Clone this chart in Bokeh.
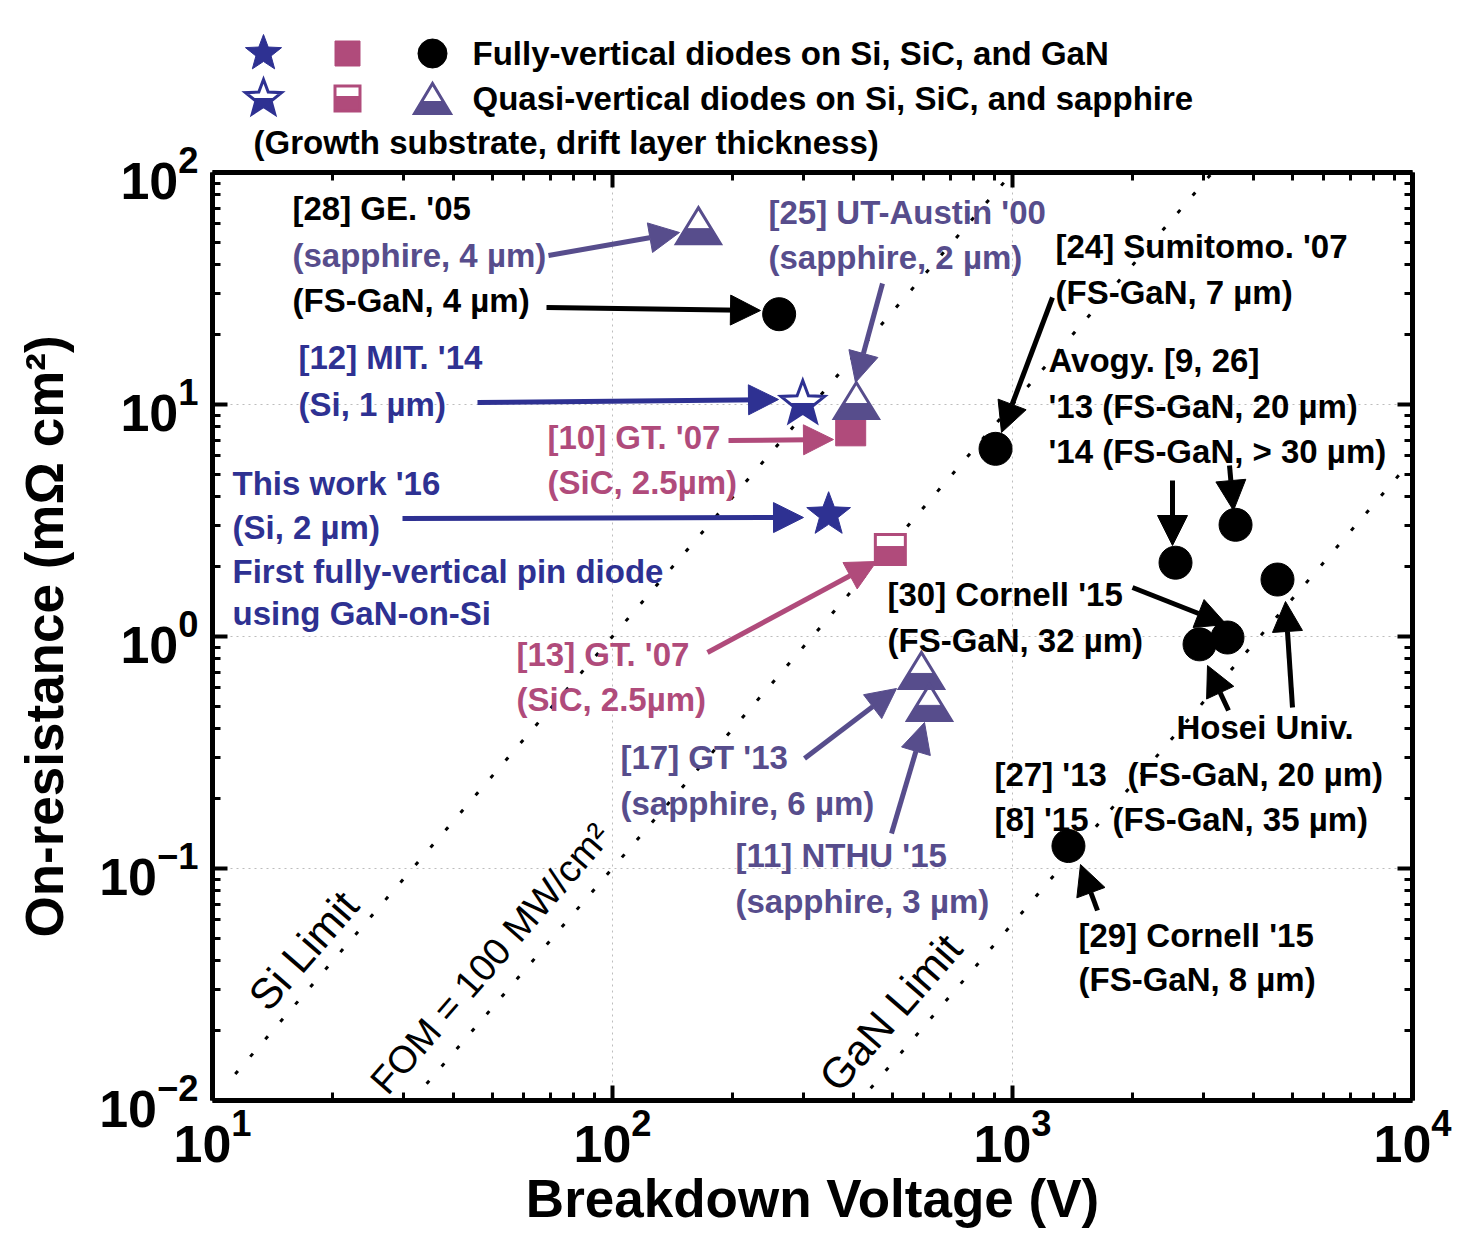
import math
from bokeh.plotting import figure
from bokeh.layouts import column
from bokeh.models import (Range1d, LinearScale, LogAxis, FixedTicker, Arrow, NormalHead,
                          ColumnDataSource)
from bokeh.core.properties import value
from bokeh.embed import file_html
from bokeh.resources import INLINE

# ---------------- data ----------------
x_ticks = [10, 100, 1000, 10000]
y_ticks = [0.01, 0.1, 1, 10, 100]

# fully-vertical diodes on GaN (filled circles)
gan_v = [261, 907, 2556, 3611, 4597, 3447, 2935, 1380]
gan_r = [24.5, 6.44, 2.08, 3.03, 1.76, 0.99, 0.925, 0.125]
# fully-vertical on Si (filled star, this work)
si_full_v = [347]
si_full_r = [3.35]
# quasi-vertical on Si (half star, MIT)
si_quasi_v = [299]
si_quasi_r = [10.1]
# fully-vertical on SiC (filled square)
sic_full_v = [394]
sic_full_r = [7.7]
# quasi-vertical on SiC (half square)
sic_quasi_v = [495]
sic_quasi_r = [2.37]
# quasi-vertical on sapphire (half triangles)
sap_v = [164, 407, 592, 620]
sap_r = [59, 10.4, 0.714, 0.52]

# limit lines (end points)
si_lim_v = [11.4, 990]
si_lim_r = [0.013, 98]
fom_v = [34.3, 3162]
fom_r = [0.0118, 100]
gan_lim_v = [442, 10000]
gan_lim_r = [0.0113, 5.8]

# ---------------- style ----------------
FONT = "Liberation Sans"
BLACK = "#000000"
BLUE = "#2e3192"
SLATE = "#574d8c"
PINK = "#b04b7b"

X0, X1 = 10, 1e4
Y0, Y1 = 1e-2, 1e2
W = 1452
LEG_H = 125                 # height of the key strip above the plot
FL, FT = 212, 172           # frame left / top on the page
FW, FH = 1200, 928
PPD_X = FW / math.log10(X1 / X0)
PPD_Y = FH / math.log10(Y1 / Y0)

# annotation layout (page pixel coordinates)
ann_x = [292, 292, 292, 298, 298, 768, 768, 1055, 1055, 1048, 1048, 1048, 547, 547,
         232, 232, 232, 232, 887, 887, 516, 516, 620, 620, 735, 735, 1176, 994, 1127,
         994, 1112, 1078, 1078, 253]
ann_y = [208, 255, 300, 357, 404, 212, 257, 246, 292, 360, 406, 451, 437, 482,
         483, 527, 571, 613, 594, 640, 654, 699, 757, 803, 855, 901, 727, 774, 774,
         819, 819, 935, 979, 142]
ann_text = ["[28] GE. '05", "(sapphire, 4 µm)", "(FS-GaN, 4 µm)", "[12] MIT. '14", "(Si, 1 µm)",
            "[25] UT-Austin '00", "(sapphire, 2 µm)", "[24] Sumitomo. '07", "(FS-GaN, 7 µm)",
            "Avogy. [9, 26]", "'13 (FS-GaN,  20 µm)", "'14 (FS-GaN, > 30 µm)",
            "[10] GT. '07", "(SiC, 2.5µm)", "This work '16", "(Si, 2 µm)",
            "First fully-vertical pin diode", "using GaN-on-Si", "[30] Cornell '15", "(FS-GaN, 32 µm)",
            "[13] GT. '07", "(SiC, 2.5µm)", "[17] GT '13", "(sapphire, 6 µm)", "[11] NTHU '15",
            "(sapphire, 3 µm)", "Hosei Univ.", "[27] '13", "(FS-GaN, 20 µm)", "[8] '15",
            "(FS-GaN, 35 µm)", "[29] Cornell '15", "(FS-GaN, 8 µm)",
            "(Growth substrate, drift layer thickness)"]
ann_color = [BLACK, SLATE, BLACK, BLUE, BLUE, SLATE, SLATE, BLACK, BLACK, BLACK, BLACK, BLACK,
             PINK, PINK, BLUE, BLUE, BLUE, BLUE, BLACK, BLACK, PINK, PINK, SLATE, SLATE, SLATE,
             SLATE, BLACK, BLACK, BLACK, BLACK, BLACK, BLACK, BLACK, BLACK]

arr_x0 = [546, 1052, 1172, 1229, 1132, 1228, 1292, 1097, 548, 882, 804, 891, 477, 402, 728, 707]
arr_y0 = [307, 297, 480, 465, 587, 710, 707, 910, 255, 283, 758, 833, 402, 518, 440, 652]
arr_x1 = [760, 1001, 1172, 1233, 1226, 1207, 1285, 1080, 679, 855, 896, 924, 778, 803, 833, 876]
arr_y1 = [310, 432, 545, 510, 624, 665, 601, 864, 232, 382, 688, 722, 399, 517, 439, 561]
arr_color = [BLACK] * 8 + [SLATE] * 4 + [BLUE] * 2 + [PINK] * 2

lim_text = ["Si Limit", "FOM = 100 MW/cm²", "GaN Limit"]
lim_x = [303, 490, 890]
lim_y = [950, 958, 1012]
lim_size = ["43px", "38px", "43px"]

# key (legend) strip
key_text = ["Fully-vertical diodes on Si, SiC, and GaN",
            "Quasi-vertical diodes on Si, SiC, and sapphire"]
key_text_x = [472, 472]
key_x = [263, 347, 432]
key_y = [53, 98]


# ---------------- marker shapes ----------------
def star_pts(R, inner=0.42):
    pts = []
    for n in range(10):
        rad = R if n % 2 == 0 else R * inner
        a = math.pi / 2 + n * math.pi / 5
        pts.append((rad * math.cos(a), rad * math.sin(a)))
    return pts


def tri_pts(w, h):
    return [(-w / 2, -h / 2), (w / 2, -h / 2), (0, h / 2)]


def sq_pts(s):
    h = s / 2
    return [(-h, -h), (h, -h), (h, h), (-h, h)]


def clip_below(pts, cut):
    out = []
    n = len(pts)
    for i in range(n):
        P, Q = pts[i], pts[(i + 1) % n]
        pin, qin = P[1] <= cut, Q[1] <= cut
        if pin:
            out.append(P)
        if pin != qin:
            t = (cut - P[1]) / (Q[1] - P[1])
            out.append((P[0] + t * (Q[0] - P[0]), cut))
    return out


def in_data(vs, rs, pts):
    xs = [[v * 10 ** (dx / PPD_X) for dx, dy in pts] for v in vs]
    ys = [[r * 10 ** (dy / PPD_Y) for dx, dy in pts] for r in rs]
    return xs, ys


def in_px(cxs, cys, pts):
    xs = [[cx + dx for dx, dy in pts] for cx in cxs]
    ys = [[cy - dy for dx, dy in pts] for cy in cys]
    return xs, ys


def full_marker(fig, shape, color):
    fig.patches(shape[0], shape[1], fill_color=color, line_color=color, line_width=1)


def half_marker(fig, shape, lower, color):
    fig.patches(shape[0], shape[1], fill_color="white", line_color=None)
    fig.patches(lower[0], lower[1], fill_color=color, line_color=color, line_width=1)
    fig.patches(shape[0], shape[1], fill_color=None, line_color=color, line_width=3,
                line_join="miter")


# ---------------- key strip (its frame is aligned with the plot frame) ----------------
k = figure(width=W, height=LEG_H, x_range=Range1d(FL, FL + FW), y_range=Range1d(LEG_H, 0),
           x_axis_location=None, y_axis_location=None, min_border=0,
           output_backend="svg", toolbar_location=None,
           background_fill_color="white", border_fill_color="white")
k.outline_line_color = None
k.xgrid.visible = False
k.ygrid.visible = False

KSTAR = star_pts(19)
KSQ = sq_pts(25)
KTRI = tri_pts(36, 30)
full_marker(k, in_px([key_x[0]], [key_y[0]], KSTAR), BLUE)
full_marker(k, in_px([key_x[1]], [key_y[0]], KSQ), PINK)
k.scatter([key_x[2]], [key_y[0]], marker="circle", size=29, fill_color="black", line_color="black")
half_marker(k, in_px([key_x[0]], [key_y[1]], KSTAR),
            in_px([key_x[0]], [key_y[1]], clip_below(KSTAR, 0.0)), BLUE)
half_marker(k, in_px([key_x[1]], [key_y[1]], KSQ),
            in_px([key_x[1]], [key_y[1]], clip_below(KSQ, 2)), PINK)
half_marker(k, in_px([key_x[2]], [key_y[1]], KTRI),
            in_px([key_x[2]], [key_y[1]], clip_below(KTRI, -3)), SLATE)
k.text(x=key_text_x, y=key_y, text=key_text, text_align="left", text_baseline="middle",
       text_font=value(FONT), text_font_style="bold", text_font_size="33px", text_color="black")

# ---------------- main plot ----------------
p = figure(x_axis_type="log", y_axis_type="log",
           x_range=Range1d(X0, X1), y_range=Range1d(Y0, Y1),
           frame_width=FW, frame_height=FH,
           min_border_left=FL, min_border_right=W - FL - FW, min_border_top=FT - LEG_H,
           min_border_bottom=146,
           output_backend="svg", toolbar_location=None,
           background_fill_color="white", border_fill_color="white")
p.outline_line_color = None
p.extra_x_ranges = {"px": Range1d(FL, FL + FW)}
p.extra_y_ranges = {"px": Range1d(FT + FH, FT)}
p.extra_x_scales = {"px": LinearScale()}
p.extra_y_scales = {"px": LinearScale()}

x_minor = [m * d for d in x_ticks[:-1] for m in range(2, 10)]
y_minor = [m * d for d in y_ticks[:-1] for m in range(2, 10)]
xt = FixedTicker(ticks=x_ticks, minor_ticks=x_minor)
yt = FixedTicker(ticks=y_ticks, minor_ticks=y_minor)


def style_axis(ax, labels):
    ax.axis_line_width = 5
    ax.axis_line_color = "black"
    ax.major_tick_line_width = 4
    ax.minor_tick_line_width = 3
    ax.major_tick_line_color = "black"
    ax.minor_tick_line_color = "black"
    ax.major_tick_in = 15
    ax.major_tick_out = 0
    ax.minor_tick_in = 8
    ax.minor_tick_out = 0
    if labels:
        ax.major_label_text_font = FONT
        ax.major_label_text_font_style = "bold"
        ax.major_label_text_font_size = "52px"
        ax.major_label_text_color = "black"
        ax.axis_label_text_font = FONT
        ax.axis_label_text_font_style = "bold"
        ax.axis_label_text_font_size = "53px"
        ax.axis_label_text_color = "black"
    else:
        ax.major_label_text_font_size = "2px"
        ax.major_label_text_alpha = 0
        ax.major_label_standoff = 0


xa = p.below[0]
ya = p.left[0]
xa.ticker = xt
ya.ticker = yt
style_axis(xa, True)
style_axis(ya, True)
xa.axis_label = "Breakdown Voltage (V)"
ya.axis_label = "On-resistance (mΩ cm²)"
xa.major_label_standoff = 8
xa.axis_label_standoff = 4
ya.major_label_standoff = 14
ya.axis_label_standoff = 22

top = LogAxis(ticker=xt)
right = LogAxis(ticker=yt)
style_axis(top, False)
style_axis(right, False)
p.add_layout(top, "above")
p.add_layout(right, "right")

for g, ticks in ((p.xgrid, x_ticks), (p.ygrid, y_ticks)):
    g.ticker = FixedTicker(ticks=ticks)
    g.grid_line_color = "#bdbdbd"
    g.grid_line_dash = "2 4"
    g.grid_line_width = 1

# limit lines
for lv, lr in ((si_lim_v, si_lim_r), (fom_v, fom_r), (gan_lim_v, gan_lim_r)):
    p.line(lv, lr, line_color="black", line_width=3, line_dash="4 19")

p.text(x="x", y="y", text="t", text_font_size="s",
       source=ColumnDataSource(dict(x=lim_x, y=lim_y, t=lim_text, s=lim_size)),
       angle=49, angle_units="deg",
       text_align="center", text_baseline="middle", text_font=value(FONT),
       text_color="black", x_range_name="px", y_range_name="px", level="overlay")

STAR = star_pts(23)
SQ = sq_pts(30)
TRI = tri_pts(44, 36)

# data markers
p.scatter(gan_v, gan_r, marker="circle", size=33, fill_color="black", line_color="black")
p.scatter(sic_full_v, sic_full_r, marker="square", size=30, fill_color=PINK, line_color=PINK)
full_marker(p, in_data(si_full_v, si_full_r, STAR), BLUE)
half_marker(p, in_data(si_quasi_v, si_quasi_r, STAR),
            in_data(si_quasi_v, si_quasi_r, clip_below(STAR, 0.0)), BLUE)
half_marker(p, in_data(sic_quasi_v, sic_quasi_r, SQ),
            in_data(sic_quasi_v, sic_quasi_r, clip_below(SQ, 3)), PINK)
half_marker(p, in_data(sap_v, sap_r, TRI),
            in_data(sap_v, sap_r, clip_below(TRI, -3)), SLATE)

# arrows
for c in (BLACK, SLATE, BLUE, PINK):
    idx = [i for i, cc in enumerate(arr_color) if cc == c]
    src = ColumnDataSource(dict(x0=[arr_x0[i] for i in idx], y0=[arr_y0[i] for i in idx],
                                x1=[arr_x1[i] for i in idx], y1=[arr_y1[i] for i in idx]))
    p.add_layout(Arrow(x_start="x0", y_start="y0", x_end="x1", y_end="y1", source=src,
                       x_range_name="px", y_range_name="px",
                       line_color=c, line_width=5,
                       end=NormalHead(size=30, fill_color=c, line_color=c, line_width=1)))

# annotation texts
p.text(x="x", y="y", text="t", text_color="c",
       source=ColumnDataSource(dict(x=ann_x, y=ann_y, t=ann_text, c=ann_color)),
       text_align="left", text_baseline="middle", text_font=value(FONT),
       text_font_style="bold", text_font_size="33px",
       x_range_name="px", y_range_name="px", level="overlay")

layout = column(k, p, spacing=0)
open("out.html", "w").write(file_html(layout, INLINE))
